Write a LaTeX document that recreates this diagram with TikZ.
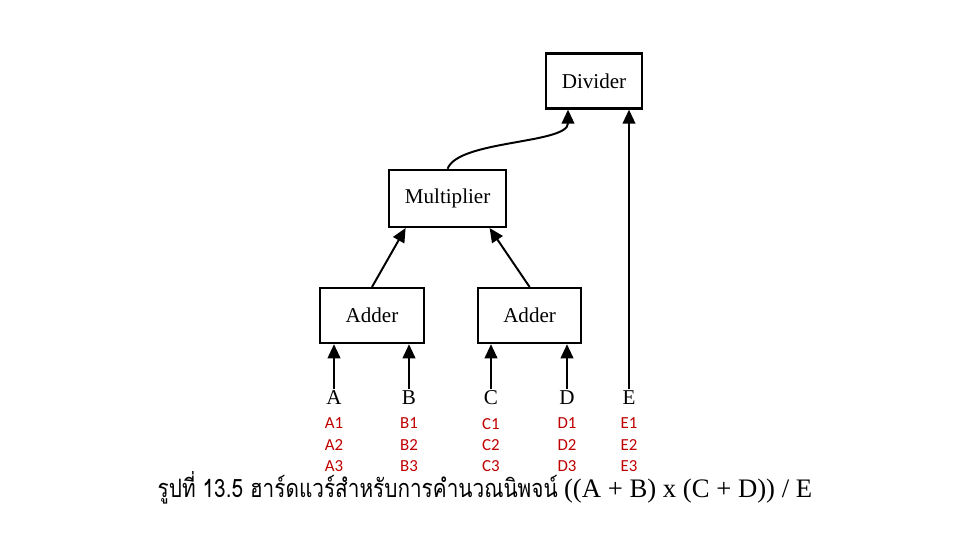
\documentclass[tikz,border=0pt]{standalone}
\usepackage{fontspec}
\setmainfont{Liberation Serif}
\newfontfamily\thaifont[Script=Thai]{Loma}
\newfontfamily\redfont{Carlito}
\usepackage{tikz}
\usetikzlibrary{arrows.meta,positioning,calc}
\usepackage{xcolor}
\definecolor{labred}{RGB}{192,0,0}
\tikzset{
  unit/.style = {rectangle, draw, line width=1.6pt, fill=white,
    align=center, font=\fontsize{15}{17}\selectfont, inner sep=4pt},
  inlbl/.style = {font=\fontsize{15}{17}\selectfont, inner sep=1pt},
  vals/.style = {font=\redfont\fontsize{12}{15}\selectfont, text=labred, align=center, inner sep=0pt},
  arrow/.style = {line width=1.4pt, -{Triangle[length=10pt,width=9pt]}}
}
\begin{document}
\begin{tikzpicture}
\useasboundingbox (0,0) rectangle (24,-13.5);

\node[unit, minimum width=2.4cm, minimum height=1.375cm] (div) at (14.85,-2.025) {Divider};
\node[unit, minimum width=2.925cm, minimum height=1.425cm] (mul) at (11.19,-4.96) {Multiplier};
\node[unit, minimum width=2.6cm, minimum height=1.375cm] (addab) at (9.3,-7.89) {Adder};
\node[unit, minimum width=2.575cm, minimum height=1.375cm] (addcd) at (13.24,-7.89) {Adder};

\node[inlbl] (a) at (8.35,-9.95) {A};
\node[inlbl] (b) at (10.225,-9.95) {B};
\node[inlbl] (c) at (12.275,-9.95) {C};
\node[inlbl] (d) at (14.175,-9.95) {D};
\node[inlbl] (e) at (15.725,-9.95) {E};

\node[vals, below=0.28cm of a] (av) {A1\\A2\\A3};
\node[vals, below=0.28cm of b] (bv) {B1\\B2\\B3};
\node[vals, below=0.28cm of c] (cv) {C1\\C2\\C3};
\node[vals, below=0.28cm of d] (dv) {D1\\D2\\D3};
\node[vals, below=0.28cm of e] (ev) {E1\\E2\\E3};

\node (cap) at (12.125,-12.2) {\fontsize{18}{20}\selectfont\scalebox{0.82}[1]{\thaifont รูปที่ 13.5 ฮาร์ดแวร์สำหรับการคำนวณนิพจน์} \fontsize{19}{21}\selectfont((A + B) x (C + D)) / E};

\draw[arrow] (a.north) -- (a.north |- addab.south);
\draw[arrow] (b.north) -- (b.north |- addab.south);
\draw[arrow] (c.north) -- (c.north |- addcd.south);
\draw[arrow] (d.north) -- (d.north |- addcd.south);
\draw[arrow] (e.north) -- (e.north |- div.south);

\draw[arrow] (addab.north) -- ([xshift=-1.05cm]mul.south);
\draw[arrow] (addcd.north) -- ([xshift=1.05cm]mul.south);
\draw[arrow] (mul.north) .. controls (11.45,-3.5) and (14.2,-3.6) .. ([xshift=-0.65cm]div.south);

\end{tikzpicture}
\end{document}
